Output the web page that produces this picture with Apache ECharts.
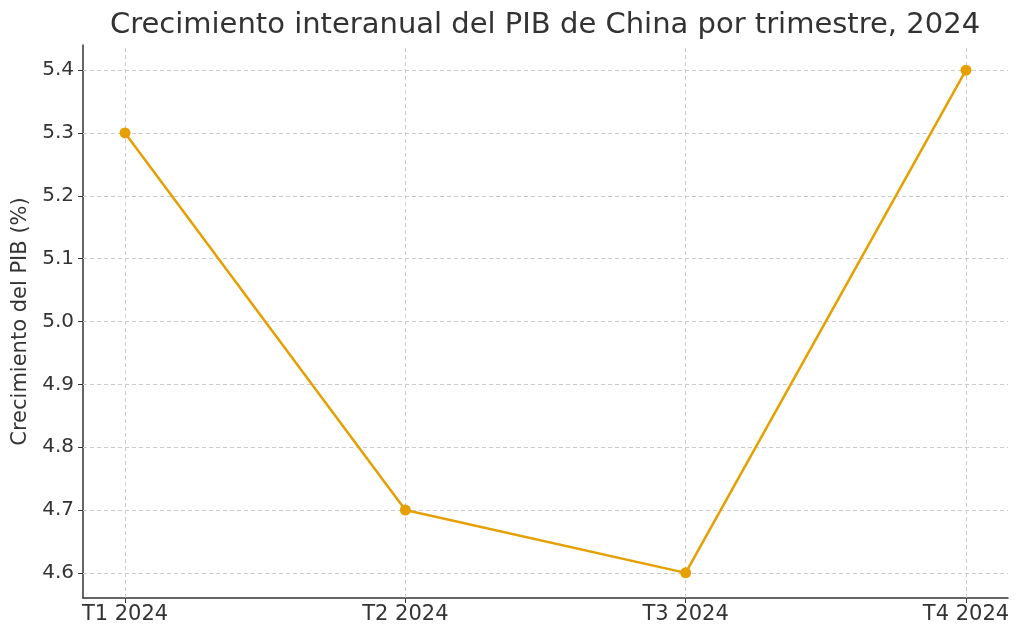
<!DOCTYPE html>
<html>
<head>
<meta charset="utf-8">
<script src="https://cdn.jsdelivr.net/npm/echarts@6/dist/echarts.min.js"></script>
<style>
  html, body { margin: 0; padding: 0; background: #fff; }
  #main { width: 1024px; height: 639px; }
</style>
</head>
<body>
<div id="main"></div>
<script>
// datos
var trimestres = ['T1 2024', 'T2 2024', 'T3 2024', 'T4 2024'];
var crecimiento = [5.3, 4.7, 4.6, 5.4];
var yTicks = [4.6, 4.7, 4.8, 4.9, 5.0, 5.1, 5.2, 5.3, 5.4];
var xTicks = [0, 1, 2, 3];

var font = 'DejaVu Sans';
var chart = echarts.init(document.getElementById('main'));

var puntos = crecimiento.map(function (v, i) { return [i, v]; });

chart.setOption({
  animation: false,
  title: {
    text: 'Crecimiento interanual del PIB de China por trimestre, 2024',
    left: 540, top: 6, textAlign: 'center',
    textStyle: { fontFamily: font, fontSize: 29, fontWeight: 'normal', color: '#333' }
  },
  grid: { left: 83, right: 16, top: 45, bottom: 41, containLabel: false, outerBoundsMode: 'none' },
  xAxis: {
    type: 'value', min: -0.15, max: 3.15,
    axisLine: { show: true, onZero: false, lineStyle: { color: '#333', width: 1.5 } },
    axisTick: { show: true, customValues: xTicks, length: 5, lineStyle: { color: '#333' } },
    axisLabel: {
      customValues: xTicks, color: '#333', fontFamily: font, fontSize: 21, margin: 6,
      formatter: function (v) { return trimestres[Math.round(v)]; }
    },
    splitLine: { show: false }
  },
  yAxis: {
    type: 'value', min: 4.56, max: 5.44,
    name: 'Crecimiento del PIB (%)', nameLocation: 'middle', nameGap: 50,
    nameTextStyle: { fontFamily: font, fontSize: 21, color: '#333' },
    axisLine: { show: true, onZero: false, lineStyle: { color: '#333', width: 1.5 } },
    axisTick: { show: true, customValues: yTicks, length: 5, lineStyle: { color: '#333' } },
    axisLabel: {
      customValues: yTicks, color: '#333', fontFamily: font, fontSize: 20, margin: 9,
      formatter: function (v) { return v.toFixed(1); }
    },
    splitLine: { show: false }
  },
  series: [{
    type: 'line',
    data: puntos,
    symbol: 'circle', symbolSize: 11,
    lineStyle: { color: '#E69F00', width: 2.5 },
    itemStyle: { color: '#E69F00' },
    z: 5,
    markLine: {
      silent: true, symbol: 'none', z: 1,
      label: { show: false },
      lineStyle: { color: '#ccc', type: [4, 3], width: 1 },
      data: xTicks.map(function (x) { return { xAxis: x }; })
        .concat(yTicks.map(function (y) { return { yAxis: y }; }))
    }
  }]
});
</script>
</body>
</html>
